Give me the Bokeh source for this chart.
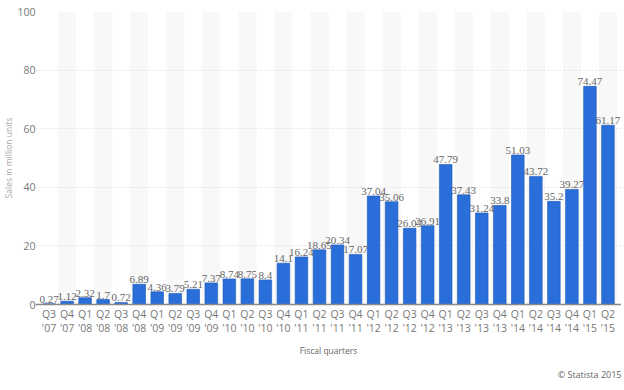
from bokeh.plotting import figure
from bokeh.models import ColumnDataSource, FactorRange, Title, LabelSet
from bokeh.core.properties import value
from bokeh.embed import file_html
from bokeh.resources import INLINE

quarters = ["Q3\n'07", "Q4\n'07", "Q1\n'08", "Q2\n'08", "Q3\n'08", "Q4\n'08",
            "Q1\n'09", "Q2\n'09", "Q3\n'09", "Q4\n'09", "Q1\n'10", "Q2\n'10",
            "Q3\n'10", "Q4\n'10", "Q1\n'11", "Q2\n'11", "Q3\n'11", "Q4\n'11",
            "Q1\n'12", "Q2\n'12", "Q3\n'12", "Q4\n'12", "Q1\n'13", "Q2\n'13",
            "Q3\n'13", "Q4\n'13", "Q1\n'14", "Q2\n'14", "Q3\n'14", "Q4\n'14",
            "Q1\n'15", "Q2\n'15"]
sales = [0.27, 1.12, 2.32, 1.7, 0.72, 6.89, 4.36, 3.79, 5.21, 7.37, 8.74, 8.75,
         8.4, 14.1, 16.24, 18.65, 20.34, 17.07, 37.04, 35.06, 26.03, 26.91,
         47.79, 37.43, 31.24, 33.8, 51.03, 43.72, 35.2, 39.27, 74.47, 61.17]
y_ticks = [0, 20, 40, 60, 80, 100]
y_max = 100

FONT = "Open Sans"

src = ColumnDataSource(dict(q=quarters, v=sales, lbl=[f"{v:g}" for v in sales]))
band_src = ColumnDataSource(dict(q=quarters[1::2], top=[y_max] * len(quarters[1::2])))

p = figure(frame_width=586, frame_height=293,
           x_range=FactorRange(*quarters, range_padding=0.25,
                               range_padding_units="absolute"),
           y_range=(0, y_max), output_backend="svg", toolbar_location=None,
           min_border=0, min_border_top=11)

p.vbar(x="q", top="top", bottom=0, width=1.0, source=band_src,
       fill_color="#f8f8f8", line_color=None, level="underlay")
p.vbar(x="q", top="v", width=0.7, source=src, fill_color="#2a6fd9",
       line_color="#1d57b8", line_width=0.6)
p.add_layout(LabelSet(x="q", y="v", text="lbl", source=src, text_align="center",
                      text_baseline="bottom", y_offset=1, text_font=FONT,
                      text_font_size="11px", text_color="#666666"))

p.outline_line_color = None
p.xgrid.grid_line_color = None
p.ygrid.grid_line_color = "#e4e4e4"
p.ygrid.grid_line_dash = "2 2"
p.ygrid.ticker = y_ticks

p.yaxis.ticker = y_ticks
p.yaxis.axis_line_color = None
p.yaxis.major_tick_line_color = None
p.yaxis.minor_tick_line_color = None
p.yaxis.major_tick_out = 0
p.yaxis.major_tick_in = 0
p.yaxis.major_label_text_font = FONT
p.yaxis.major_label_text_font_size = "10.5px"
p.yaxis.major_label_text_color = "#777777"
p.yaxis.major_label_standoff = 0
p.yaxis.axis_label = "Sales in million units"
p.yaxis.axis_label_text_font = FONT
p.yaxis.axis_label_text_font_size = "8.5px"
p.yaxis.axis_label_text_font_style = "normal"
p.yaxis.axis_label_text_color = "#aaaaaa"
p.yaxis.axis_label_standoff = 0

p.xaxis.axis_line_color = "#888888"
p.xaxis.axis_line_width = 1.5
p.xaxis.major_tick_line_color = None
p.xaxis.minor_tick_line_color = None
p.xaxis.major_tick_out = 0
p.xaxis.major_tick_in = 0
p.xaxis.major_label_text_font = FONT
p.xaxis.major_label_text_font_size = "10.5px"
p.xaxis.major_label_text_line_height = 1.0
p.xaxis.major_label_text_color = "#777777"
p.xaxis.major_label_standoff = 2
p.xaxis.axis_label = "Fiscal quarters"
p.xaxis.axis_label_text_font = FONT
p.xaxis.axis_label_text_font_size = "8.5px"
p.xaxis.axis_label_text_font_style = "normal"
p.xaxis.axis_label_text_color = "#666666"
p.xaxis.axis_label_standoff = 7

p.add_layout(Title(text="© Statista 2015", align="right", text_font=FONT,
                   text_font_size="9px", text_font_style="normal",
                   text_color="#666666", standoff=14, offset=0), "below")

open("out.html", "w").write(file_html(p, INLINE))
